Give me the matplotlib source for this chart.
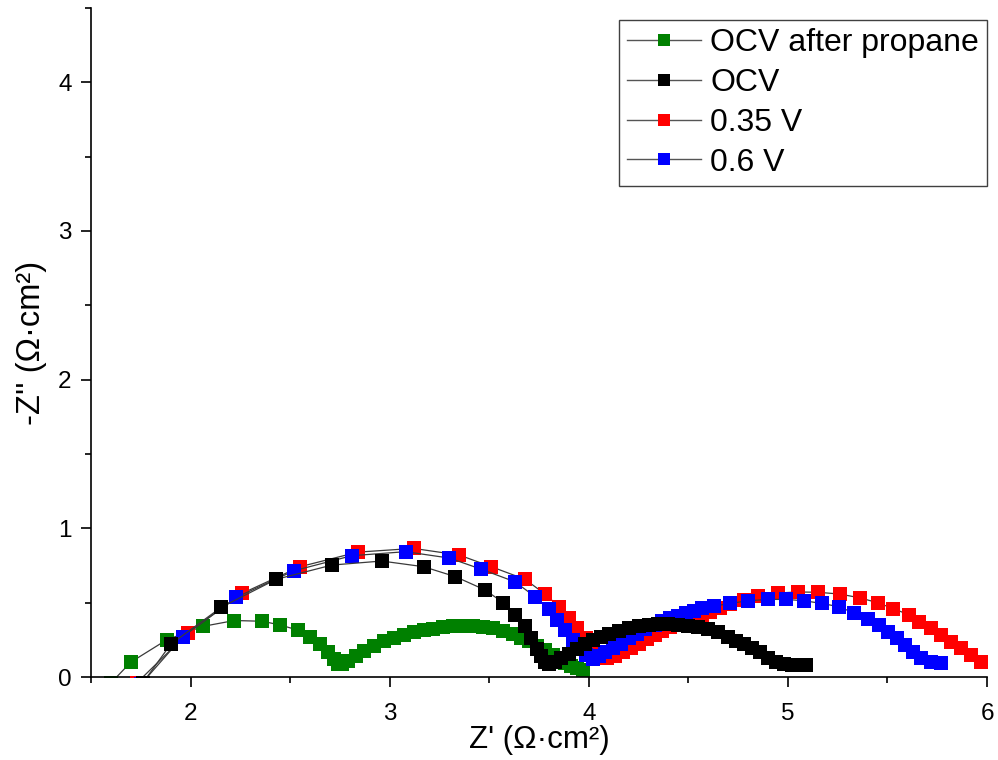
import matplotlib
matplotlib.use("Agg")
import matplotlib.pyplot as plt
from matplotlib.lines import Line2D
from matplotlib.ticker import MultipleLocator

plt.rcParams['font.family'] = ['Liberation Sans', 'DejaVu Sans']

# Nyquist data: Z' (ohm cm^2) and -Z'' (ohm cm^2)
ocv_propane_x = [1.60, 1.70, 1.88, 2.06, 2.22, 2.36, 2.45, 2.54, 2.60, 2.65, 2.69, 2.72, 2.74,
                 2.76, 2.79, 2.83, 2.87, 2.92, 2.97, 3.02, 3.07, 3.12, 3.17, 3.22, 3.27, 3.32,
                 3.37, 3.42, 3.47, 3.52, 3.57, 3.62, 3.66, 3.70, 3.74, 3.78, 3.82, 3.85, 3.88,
                 3.91, 3.94, 3.97]
ocv_propane_y = [-0.04, 0.10, 0.25, 0.34, 0.38, 0.375, 0.35, 0.315, 0.27, 0.225, 0.17, 0.12, 0.09,
                 0.085, 0.105, 0.14, 0.175, 0.21, 0.24, 0.265, 0.285, 0.30, 0.315, 0.325, 0.335, 0.342,
                 0.346, 0.345, 0.338, 0.328, 0.312, 0.29, 0.265, 0.24, 0.21, 0.18, 0.15, 0.12, 0.095,
                 0.075, 0.06, 0.05]

ocv_x = [1.76, 1.90, 2.155, 2.43, 2.71, 2.96, 3.17, 3.33, 3.48, 3.57, 3.63, 3.68, 3.71, 3.74,
         3.76, 3.78, 3.80, 3.83, 3.86, 3.90, 3.94, 3.98, 4.02, 4.06, 4.10, 4.15, 4.20, 4.25,
         4.30, 4.35, 4.40, 4.45, 4.50, 4.55, 4.60, 4.65, 4.70, 4.74, 4.78, 4.82, 4.86, 4.90,
         4.94, 4.98, 5.02, 5.06, 5.09]
ocv_y = [-0.04, 0.22, 0.47, 0.657, 0.753, 0.78, 0.742, 0.675, 0.585, 0.50, 0.417, 0.34, 0.26, 0.19,
         0.14, 0.10, 0.085, 0.10, 0.125, 0.155, 0.19, 0.22, 0.25, 0.27, 0.29, 0.31, 0.33, 0.345,
         0.352, 0.356, 0.356, 0.352, 0.344, 0.335, 0.32, 0.30, 0.27, 0.245, 0.22, 0.195, 0.165, 0.13,
         0.10, 0.085, 0.08, 0.08, 0.08]

v035_x = [1.73, 1.985, 2.26, 2.55, 2.84, 3.12, 3.35, 3.51, 3.68, 3.78, 3.85, 3.90, 3.94, 3.985,
          4.01, 4.03, 4.05, 4.09, 4.13, 4.17, 4.21, 4.25, 4.29, 4.33, 4.37, 4.41, 4.45, 4.49,
          4.53, 4.57, 4.61, 4.66, 4.71, 4.78, 4.85, 4.95, 5.05, 5.15, 5.26, 5.36, 5.45, 5.53,
          5.61, 5.66, 5.72, 5.77, 5.82, 5.87, 5.92, 5.97]
v035_y = [-0.04, 0.294, 0.563, 0.742, 0.84, 0.865, 0.82, 0.742, 0.657, 0.558, 0.473, 0.395, 0.327, 0.26,
          0.20, 0.16, 0.13, 0.125, 0.14, 0.165, 0.195, 0.225, 0.255, 0.285, 0.31, 0.335, 0.36, 0.38,
          0.40, 0.42, 0.44, 0.465, 0.49, 0.52, 0.545, 0.565, 0.572, 0.57, 0.558, 0.533, 0.50, 0.46,
          0.417, 0.372, 0.327, 0.282, 0.237, 0.193, 0.148, 0.10]

v06_x = [1.75, 1.96, 2.23, 2.52, 2.81, 3.08, 3.30, 3.46, 3.63, 3.73, 3.80, 3.84, 3.88, 3.92,
         3.95, 3.985, 4.02, 4.05, 4.08, 4.12, 4.16, 4.20, 4.24, 4.28, 4.33, 4.37, 4.41, 4.45,
         4.49, 4.53, 4.57, 4.63, 4.71, 4.80, 4.90, 4.99, 5.08, 5.17, 5.255, 5.33, 5.40, 5.455,
         5.505, 5.55, 5.59, 5.63, 5.67, 5.72, 5.77]
v06_y = [-0.05, 0.27, 0.536, 0.715, 0.816, 0.843, 0.80, 0.725, 0.64, 0.54, 0.455, 0.383, 0.316, 0.25,
         0.193, 0.148, 0.12, 0.14, 0.165, 0.195, 0.225, 0.26, 0.29, 0.32, 0.35, 0.375, 0.395, 0.412,
         0.43, 0.447, 0.462, 0.477, 0.495, 0.513, 0.522, 0.522, 0.513, 0.495, 0.473, 0.432, 0.39, 0.35,
         0.305, 0.26, 0.215, 0.17, 0.126, 0.103, 0.096]

series_labels = ["OCV after propane", "OCV", "0.35 V", "0.6 V"]
series_colors = ["#008000", "#000000", "#ff0000", "#0000ff"]
series_x = [ocv_propane_x, ocv_x, v035_x, v06_x]
series_y = [ocv_propane_y, ocv_y, v035_y, v06_y]
series_z = [2, 5, 3, 4]

fig = plt.figure(figsize=(9.98, 7.6), dpi=100)
ax = fig.add_axes([0.0912, 0.1092, 0.8978, 0.8803])

for xs, ys, col, z in zip(series_x, series_y, series_colors, series_z):
    ax.plot(xs, ys, color="#3a3a3a", lw=0.9, zorder=z)
    ax.plot(xs, ys, ls="none", marker="s", ms=9.8, mfc=col, mec=col, mew=0, zorder=z + 0.5)

ax.set_xlim(1.5, 6.0)
ax.set_ylim(0, 4.5)
ax.xaxis.set_major_locator(MultipleLocator(1))
ax.xaxis.set_minor_locator(MultipleLocator(0.5))
ax.yaxis.set_major_locator(MultipleLocator(1))
ax.yaxis.set_minor_locator(MultipleLocator(0.5))

for side in ("top", "right"):
    ax.spines[side].set_visible(False)
for side in ("left", "bottom"):
    ax.spines[side].set_linewidth(1.2)

ax.tick_params(which="major", direction="out", length=7, width=1.2, labelsize=17.5)
ax.tick_params(which="minor", direction="out", length=4.5, width=1.2)
ax.tick_params(axis="x", which="major", pad=12)
ax.tick_params(axis="y", which="major", pad=7)

ax.set_xlabel("Z' (Ω·cm²)", fontsize=22.5, labelpad=0)
ax.set_ylabel("-Z'' (Ω·cm²)", fontsize=23.5, labelpad=8)

handles = [Line2D([], [], color="#555555", lw=1.0, marker="s", ms=9, mfc=c, mec=c, mew=0)
           for c in series_colors]
leg = ax.legend(handles, series_labels, loc="upper right", bbox_to_anchor=(1.0, 1 - 12 / 669),
                borderaxespad=0, fontsize=23, frameon=True, fancybox=False, framealpha=1,
                edgecolor="#404040", handlelength=2.3, handletextpad=0.3, labelspacing=0.31,
                borderpad=0.25)
leg.get_frame().set_linewidth(1.0)

fig.savefig("out.png", dpi=100)
